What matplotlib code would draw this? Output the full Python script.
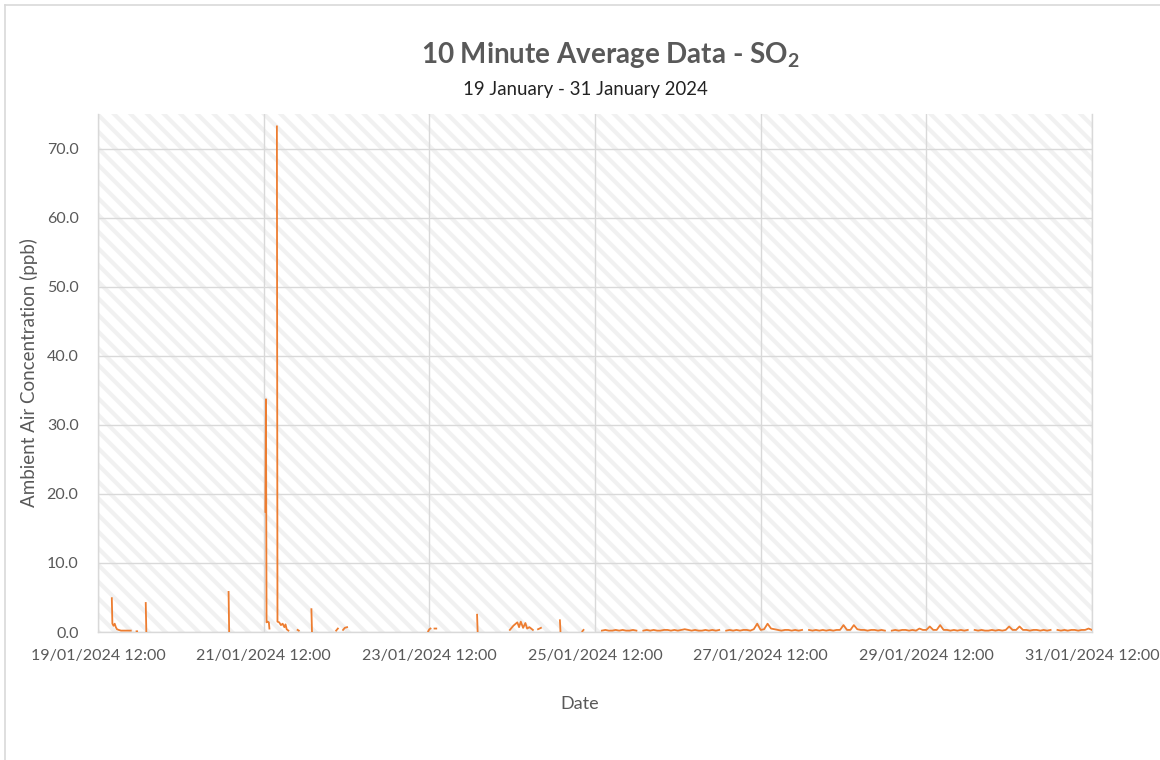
import numpy as np
import pandas as pd
import matplotlib
matplotlib.use("Agg")
import matplotlib.pyplot as plt
import matplotlib.dates as mdates
from matplotlib.patches import Rectangle
from matplotlib.lines import Line2D

plt.rcParams['font.family'] = ['Lato', 'DejaVu Sans']

# sparse 10-minute readings, 19/01 - 25/01 (nan = no data)
early_times = [
    "2024-01-19 16:00", "2024-01-19 16:10", "2024-01-19 16:30", "2024-01-19 16:50",
    "2024-01-19 17:10", "2024-01-19 17:30", "2024-01-19 18:00", "2024-01-19 18:40",
    "2024-01-19 19:30", "2024-01-19 20:30", "2024-01-19 21:30", "2024-01-19 21:40",
    "2024-01-19 23:10", "2024-01-19 23:20", "2024-01-19 23:30",
    "2024-01-20 01:50", "2024-01-20 02:00", "2024-01-20 02:10",
    "2024-01-21 01:50", "2024-01-21 02:00", "2024-01-21 02:10",
    "2024-01-21 12:30", "2024-01-21 12:40", "2024-01-21 12:50", "2024-01-21 13:10",
    "2024-01-21 13:30", "2024-01-21 13:40", "2024-01-21 13:50",
    "2024-01-21 15:50", "2024-01-21 16:00", "2024-01-21 16:30", "2024-01-21 17:00",
    "2024-01-21 17:30", "2024-01-21 18:00", "2024-01-21 18:20", "2024-01-21 18:40",
    "2024-01-21 19:10", "2024-01-21 19:20",
    "2024-01-21 21:50", "2024-01-21 22:10", "2024-01-21 22:20",
    "2024-01-22 01:50", "2024-01-22 02:00", "2024-01-22 02:10",
    "2024-01-22 09:00", "2024-01-22 09:30", "2024-01-22 09:40",
    "2024-01-22 11:00", "2024-01-22 11:30", "2024-01-22 12:10", "2024-01-22 12:20",
    "2024-01-23 11:40", "2024-01-23 12:00", "2024-01-23 12:20", "2024-01-23 12:30",
    "2024-01-23 13:30", "2024-01-23 14:00", "2024-01-23 14:10",
    "2024-01-24 01:50", "2024-01-24 02:00", "2024-01-24 02:10",
    "2024-01-24 11:20", "2024-01-24 12:20", "2024-01-24 13:30", "2024-01-24 14:00",
    "2024-01-24 14:30", "2024-01-24 15:10", "2024-01-24 15:50", "2024-01-24 16:20",
    "2024-01-24 17:00", "2024-01-24 18:00", "2024-01-24 18:10",
    "2024-01-24 19:30", "2024-01-24 20:20", "2024-01-24 20:30",
    "2024-01-25 01:50", "2024-01-25 02:00", "2024-01-25 02:10",
    "2024-01-25 08:20", "2024-01-25 08:40", "2024-01-25 08:50",
]
nan = np.nan
early_so2 = [
    4.9, 1.2, 0.9, 1.2,
    0.7, 0.4, 0.3, 0.2,
    0.2, 0.2, 0.2, nan,
    0.1, 0.1, nan,
    4.2, 0.0, nan,
    5.8, 0.0, nan,
    17.4, 33.7, 1.4, 1.5,
    1.4, 0.5, nan,
    73.2, 1.5, 1.4, 1.0,
    1.2, 0.7, 1.1, 0.4,
    0.2, nan,
    0.3, 0.2, nan,
    3.3, 0.0, nan,
    0.2, 0.5, nan,
    0.3, 0.6, 0.7, nan,
    0.1, 0.4, 0.5, nan,
    0.5, 0.5, nan,
    2.5, 0.0, nan,
    0.3, 0.9, 1.4, 0.7,
    1.5, 0.6, 1.3, 0.5,
    0.7, 0.3, nan,
    0.4, 0.6, nan,
    1.7, 0.0, nan,
    0.1, 0.3, nan,
]

# hourly readings of the continuous period, one block per day
block_starts = ["2024-01-25 14:00", "2024-01-26 02:00", "2024-01-27 02:00",
                "2024-01-28 02:00", "2024-01-29 02:00", "2024-01-30 02:00",
                "2024-01-31 02:00"]
block_so2 = [
    [0.2, 0.3, 0.2, 0.2, 0.3, 0.2, 0.3, 0.2, 0.2, 0.3, 0.2],
    [0.2, 0.3, 0.2, 0.3, 0.2, 0.2, 0.3, 0.3, 0.2, 0.3, 0.2, 0.3, 0.4, 0.3, 0.2, 0.3,
     0.2, 0.2, 0.3, 0.2, 0.3, 0.2, 0.3],
    [0.2, 0.3, 0.2, 0.3, 0.2, 0.3, 0.3, 0.2, 0.4, 1.2, 0.3, 0.4, 1.2, 0.5, 0.4, 0.3,
     0.2, 0.3, 0.3, 0.2, 0.3, 0.2, 0.3],
    [0.3, 0.2, 0.3, 0.2, 0.3, 0.2, 0.3, 0.2, 0.3, 0.3, 1.0, 0.3, 0.3, 1.0, 0.4, 0.3,
     0.3, 0.2, 0.3, 0.3, 0.2, 0.3, 0.2],
    [0.2, 0.3, 0.2, 0.3, 0.3, 0.2, 0.3, 0.2, 0.5, 0.3, 0.3, 0.8, 0.3, 0.3, 1.0, 0.3,
     0.3, 0.2, 0.3, 0.2, 0.3, 0.2, 0.3],
    [0.3, 0.2, 0.3, 0.2, 0.2, 0.3, 0.2, 0.3, 0.2, 0.3, 0.8, 0.3, 0.3, 0.8, 0.3, 0.3,
     0.2, 0.3, 0.3, 0.2, 0.3, 0.2, 0.3],
    [0.3, 0.2, 0.3, 0.2, 0.3, 0.3, 0.2, 0.3, 0.3, 0.5, 0.3],
]

times = list(pd.to_datetime(early_times))
values = list(early_so2)
for start, vals in zip(block_starts, block_so2):
    rng = pd.date_range(start, periods=len(vals), freq="h")
    times += list(rng)
    values += vals
    times.append(rng[-1] + pd.Timedelta(minutes=10))
    values.append(nan)

series = pd.Series(values, index=pd.DatetimeIndex(times))

fig = plt.figure(figsize=(11.6, 7.6), dpi=100)
ax = fig.add_axes([98 / 1160, 1 - 632 / 760, 994 / 1160, 518 / 760])

# hatched plot area
bg = Rectangle((0, 0), 1, 1, transform=ax.transAxes, facecolor="white",
               edgecolor="#F1F1F1", hatch="\\\\", linewidth=0, zorder=0)
bg.set_hatch_linewidth(3.0)
ax.add_patch(bg)
ax.patch.set_visible(False)

ax.plot(series.index, series.values, color="#ED7D31", linewidth=1.3, zorder=3)

ax.set_xlim(pd.Timestamp("2024-01-19 12:00"), pd.Timestamp("2024-01-31 12:00"))
ax.set_ylim(0, 75)
ax.set_yticks(np.arange(0, 71, 10))
ax.yaxis.set_major_formatter(matplotlib.ticker.FormatStrFormatter("%.1f"))
ax.set_xticks(pd.date_range("2024-01-19 12:00", "2024-01-31 12:00", freq="2D"))
ax.xaxis.set_major_formatter(mdates.DateFormatter("%d/%m/%Y %H:%M"))

ax.grid(True, color="#D9D9D9", linewidth=1.0, zorder=1)
ax.set_axisbelow(True)
ax.spines["top"].set_visible(False)
for side in ["left", "right", "bottom"]:
    ax.spines[side].set_color("#D9D9D9")
    ax.spines[side].set_linewidth(1.0)
ax.tick_params(length=0, colors="#595959", labelsize=11.5)
ax.tick_params(axis="x", pad=12)
ax.tick_params(axis="y", pad=14)

ax.set_ylabel("Ambient Air Concentration (ppb)", fontsize=13.5, color="#595959", labelpad=6)
ax.set_xlabel("Date", fontsize=13, color="#595959")
ax.xaxis.set_label_coords((580 - 98) / 994, (632 - 704) / 518)
ax.xaxis.label.set_va("center")

fig.text(610 / 1160, 1 - 55 / 760, "10 Minute Average Data - SO$_\\mathregular{2}$",
         ha="center", va="center", fontsize=20, fontweight="bold", color="#595959")
fig.text(585 / 1160, 1 - 89 / 760, "19 January - 31 January 2024",
         ha="center", va="center", fontsize=13.4, color="#222222")

# outer chart border
fig.add_artist(Line2D([5 / 1160, 1], [1 - 5 / 760, 1 - 5 / 760], color="#D9D9D9", linewidth=1.2))
fig.add_artist(Line2D([5 / 1160, 5 / 1160], [0, 1 - 5 / 760], color="#D9D9D9", linewidth=1.2))

fig.savefig("out.png", dpi=100)
